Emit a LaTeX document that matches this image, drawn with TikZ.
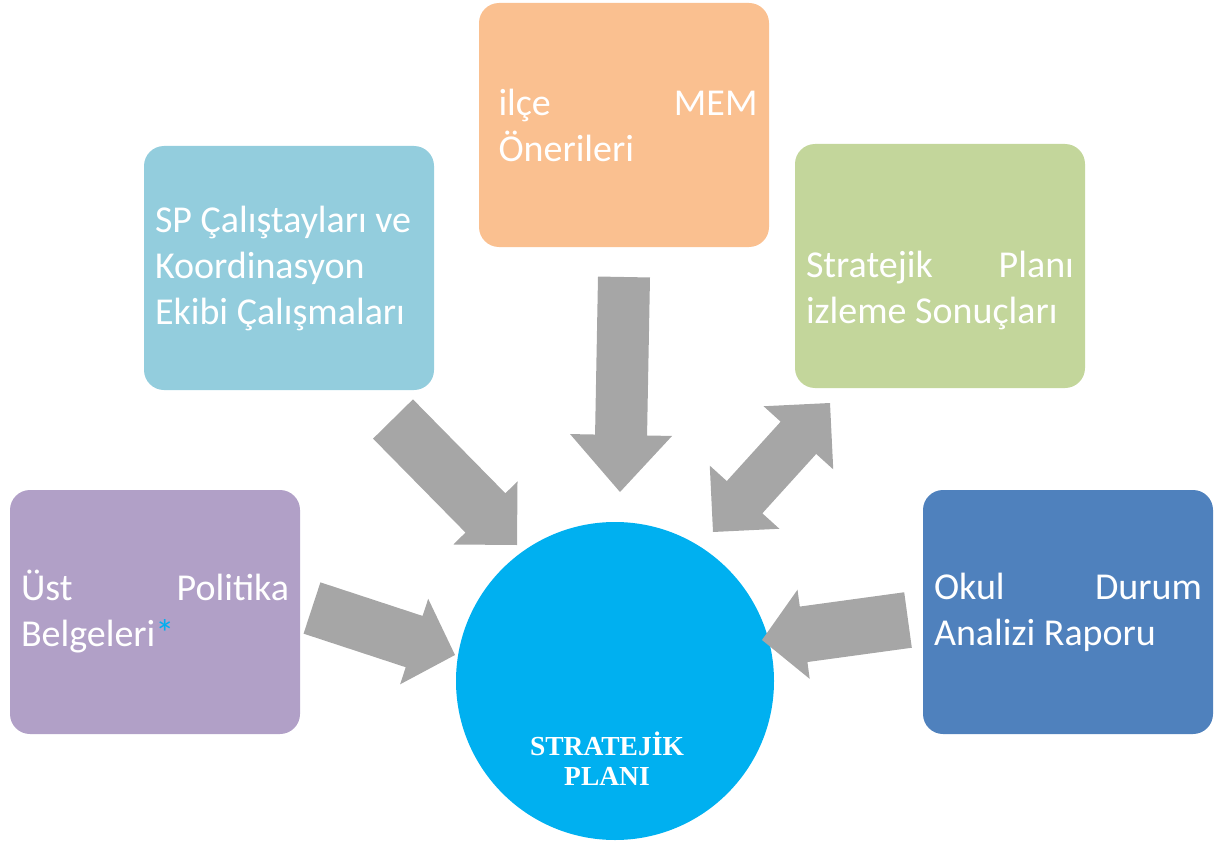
\documentclass[tikz,border=0pt]{standalone}
\usepackage{fontspec}
\setmainfont{Carlito}
\newfontfamily\plantitlefont{Liberation Serif}
\usetikzlibrary{calc}
\hyphenpenalty=10000

\definecolor{kutumor}{RGB}{177,160,199}
\definecolor{kutuacik}{RGB}{147,205,221}
\definecolor{kututuruncu}{RGB}{250,192,144}
\definecolor{kutuyesil}{RGB}{195,214,155}
\definecolor{kutumavi}{RGB}{79,129,189}
\definecolor{planmavi}{RGB}{0,176,240}
\definecolor{okgri}{RGB}{166,166,166}

\newcommand\blockarrow[5]{%
	\coordinate (hb) at ($(#2)!#5!(#1)$);
	\fill[okgri] ($(#1)!#3!90:(#2)$) -- ($(hb)!#3!90:(#2)$) -- ($(hb)!#4!90:(#2)$) -- (#2)
		-- ($(hb)!#4!-90:(#2)$) -- ($(hb)!#3!-90:(#2)$) -- ($(#1)!#3!-90:(#2)$) -- cycle;}
\newcommand\twinarrow[5]{%
	\coordinate (hba) at ($(#1)!#5!(#2)$);
	\coordinate (hbb) at ($(#2)!#5!(#1)$);
	\fill[okgri] (#1) -- ($(hba)!#4!90:(#2)$) -- ($(hba)!#3!90:(#2)$) -- ($(hbb)!#3!-90:(#1)$)
		-- ($(hbb)!#4!-90:(#1)$) -- (#2) -- ($(hbb)!#4!90:(#1)$) -- ($(hbb)!#3!90:(#1)$)
		-- ($(hba)!#3!-90:(#2)$) -- ($(hba)!#4!-90:(#2)$) -- cycle;}

\begin{document}
\begin{tikzpicture}[x=1pt,y=-1pt,
	kutu/.style={rectangle, rounded corners=20pt, minimum width=290pt, minimum height=244pt,
		inner xsep=11pt, text=white, text width=268pt, align=justify,
		font=\fontsize{38}{46}\selectfont},
	plantext/.style={text=white, align=center,
		font=\plantitlefont\bfseries\fontsize{27.5}{30}\selectfont}]
	\useasboundingbox (0,0) rectangle (1221,848);

	\node[kutu, fill=kutumor] (ust) at (155,612) {Üst Politika\linebreak Belgeleri\textcolor{planmavi}{*}};
	\node[kutu, fill=kutuacik, align=flush left] (calistay) at (289,268) {SP Çalıştayları ve\\Koordinasyon\\Ekibi Çalışmaları};
	\node[kutu, fill=kututuruncu] (ilce) at (624,125) {};
	\node[kutu, fill=none, minimum height=0pt, text width=259pt] (ilcetext) at ([xshift=4pt]ilce.center) {ilçe MEM\linebreak Önerileri};
	\node[kutu, fill=kutuyesil] (izleme) at (940,266) {};
	\node[kutu, fill=none, minimum height=0pt] (izlemetext) at ([yshift=-24pt]izleme.center) {Stratejik Planı\linebreak izleme Sonuçları};
	\node[kutu, fill=kutumavi] (okul) at (1068,612) {Okul Durum\linebreak Analizi Raporu};

	\node[circle, fill=planmavi, minimum size=318pt, inner sep=0pt] (plan) at (615,681) {};
	\node[plantext] (plantitle) at ([xshift=-8pt,yshift=-78pt]plan.center) {STRATEJİK\\PLANI};

	\coordinate (ustT) at (312,608);
	\coordinate (ustH) at (455,655);
	\coordinate (calT) at (393,419);
	\coordinate (calH) at (517,545);
	\coordinate (ilceT) at (624,277);
	\coordinate (ilceH) at (620,492);
	\coordinate (izA) at (713,532);
	\coordinate (izB) at (830,403);
	\coordinate (okulT) at (908,620);
	\coordinate (okulH) at (762,640);

	\blockarrow{ustT}{ustH}{27pt}{45pt}{43pt}
	\blockarrow{calT}{calH}{28pt}{45pt}{45pt}
	\blockarrow{ilceT}{ilceH}{26pt}{51pt}{57pt}
	\twinarrow{izA}{izB}{24pt}{47pt}{47pt}
	\blockarrow{okulT}{okulH}{28pt}{45pt}{42pt}
\end{tikzpicture}
\end{document}
